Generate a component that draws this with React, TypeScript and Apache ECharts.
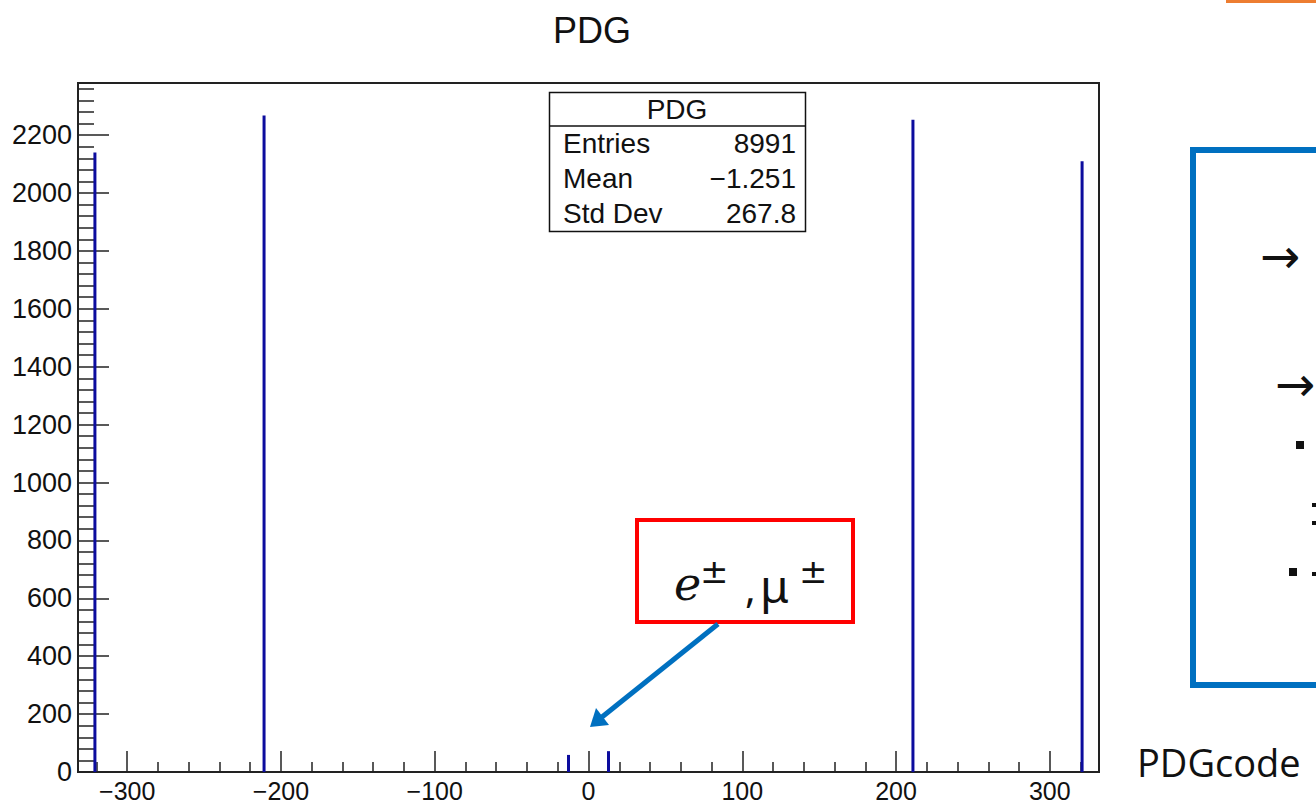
import React, { useEffect, useRef } from "react";
import * as echarts from "echarts";

// ---- data ----
const pdgCodes = [-321, -211, -13, 13, 211, 321];
const counts = [2140, 2268, 59, 72, 2253, 2110];
const xMajorTicks = [-300, -200, -100, 0, 100, 200, 300];
const xMinorTicks = [-320, -280, -260, -240, -220, -180, -160, -140, -120, -80, -60, -40, -20, 20, 40, 60, 80, 120, 140, 160, 180, 220, 240, 260, 280, 320];
const yMajorTicks = [0, 200, 400, 600, 800, 1000, 1200, 1400, 1600, 1800, 2000, 2200];
const yMinorTicks: number[] = [40, 80, 120, 160, 240, 280, 320, 360, 440, 480, 520, 560, 640, 680, 720, 760, 840, 880, 920, 960, 1040, 1080, 1120, 1160, 1240, 1280, 1320, 1360, 1440, 1480, 1520, 1560, 1640, 1680, 1720, 1760, 1840, 1880, 1920, 1960, 2040, 2080, 2120, 2160, 2240, 2280, 2320, 2360];
const statLabels = ["Entries", "Mean", "Std Dev"];
const statValues = ["8991", "\u22121.251", "267.8"];

const X_MIN = -332;
const X_MAX = 332;
const Y_MAX = 2380;

const ROOT_FONT = "'Liberation Sans', Arial, Helvetica, sans-serif";

export default function App() {
  const ref = useRef<HTMLDivElement>(null);
  useEffect(() => {
    if (!ref.current) return;
    const chart = echarts.init(ref.current, undefined, { renderer: "svg" });
    const fmt = (v: number) => (v < 0 ? "\u2212" + Math.abs(v) : String(v));
    const statsTexts: any[] = [];
    statLabels.forEach((l, i) => {
      statsTexts.push({
        type: "text",
        x: 563,
        y: 143 + i * 35,
        style: { text: l, font: `28px ${ROOT_FONT}`, fill: "#111", align: "left", verticalAlign: "middle" },
      });
      statsTexts.push({
        type: "text",
        x: 796,
        y: 143 + i * 35,
        style: { text: statValues[i], font: `28px ${ROOT_FONT}`, fill: "#111", align: "right", verticalAlign: "middle" },
      });
    });
    const tickStyle = { color: "#222", width: 1.5 };
    chart.setOption({
      animation: false,
      backgroundColor: "#fff",
      title: {
        text: "PDG",
        left: 548,
        top: 7,
        textStyle: { fontFamily: ROOT_FONT, fontSize: 36, fontWeight: "normal", color: "#111" },
      },
      grid: {
        left: 78,
        right: 217,
        top: 83,
        bottom: 34,
        show: true,
        borderColor: "#222",
        borderWidth: 2,
        backgroundColor: "transparent",
      },
      xAxis: [
        {
          type: "value",
          min: X_MIN,
          max: X_MAX,
          position: "bottom",
          axisLine: { show: true, onZero: false, lineStyle: { color: "#222", width: 2 } },
          axisTick: { show: true, inside: true, length: 21, customValues: xMajorTicks, lineStyle: tickStyle },
          axisLabel: { show: true, customValues: xMajorTicks, formatter: fmt, fontFamily: ROOT_FONT, fontSize: 25, color: "#111", margin: 6 },
          splitLine: { show: false },
        },
        {
          type: "value",
          min: X_MIN,
          max: X_MAX,
          position: "bottom",
          axisLine: { show: false, onZero: false },
          axisTick: { show: true, inside: true, length: 10, customValues: xMinorTicks, lineStyle: tickStyle },
          axisLabel: { show: false },
          splitLine: { show: false },
        },
      ],
      yAxis: [
        {
          type: "value",
          min: 0,
          max: Y_MAX,
          position: "left",
          axisLine: { show: true, onZero: false, lineStyle: { color: "#222", width: 2 } },
          axisTick: { show: true, inside: true, length: 31, customValues: yMajorTicks, lineStyle: tickStyle },
          axisLabel: { show: true, customValues: yMajorTicks, formatter: (v: number) => String(v), fontFamily: ROOT_FONT, fontSize: 27, color: "#111", margin: 6 },
          splitLine: { show: false },
        },
        {
          type: "value",
          min: 0,
          max: Y_MAX,
          position: "left",
          axisLine: { show: false, onZero: false },
          axisTick: { show: true, inside: true, length: 16, customValues: yMinorTicks, lineStyle: tickStyle },
          axisLabel: { show: false },
          splitLine: { show: false },
        },
      ],
      series: [
        {
          type: "bar",
          xAxisIndex: 0,
          yAxisIndex: 0,
          barWidth: 3,
          itemStyle: { color: "#0c0c9e" },
          data: pdgCodes.map((c, i) => [c, counts[i]]),
        },
      ],
      graphic: [
        // stats box
        { type: "rect", shape: { x: 549.5, y: 92.5, width: 256, height: 139 }, style: { fill: "#fff", stroke: "#111", lineWidth: 1.5 } },
        { type: "line", shape: { x1: 549.5, y1: 126, x2: 805.5, y2: 126 }, style: { stroke: "#111", lineWidth: 1.5 } },
        { type: "text", x: 677, y: 109, style: { text: "PDG", font: `28px ${ROOT_FONT}`, fill: "#111", align: "center", verticalAlign: "middle" } },
        ...statsTexts,
        // annotation box
        { type: "rect", shape: { x: 637, y: 520, width: 216, height: 102 }, style: { fill: "#fff", stroke: "#ff0000", lineWidth: 4 } },
        { type: "text", x: 674, y: 584, style: { text: "e", fontStyle: "italic", fontSize: 46, fontFamily: "DejaVu Serif", fill: "#111", align: "left", verticalAlign: "middle" } },
        { type: "text", x: 700, y: 571, style: { text: "\u00b1", fontSize: 34, fontFamily: "DejaVu Sans", fill: "#111", align: "left", verticalAlign: "middle" } },
        { type: "text", x: 745, y: 587, style: { text: ",", fontSize: 40, fontFamily: "Noto Sans", fill: "#111", align: "left", verticalAlign: "middle" } },
        { type: "text", x: 760, y: 585, style: { text: "\u03bc", fontSize: 46, fontFamily: "Noto Sans", fill: "#111", align: "left", verticalAlign: "middle" } },
        { type: "text", x: 799, y: 571, style: { text: "\u00b1", fontSize: 34, fontFamily: "DejaVu Sans", fill: "#111", align: "left", verticalAlign: "middle" } },
        // arrow
        { type: "line", shape: { x1: 718, y1: 624, x2: 602, y2: 717 }, style: { stroke: "#0070c0", lineWidth: 5 } },
        { type: "polygon", shape: { points: [[590, 727], [609, 725], [596, 708]] }, style: { fill: "#0070c0" } },
        // right side slide content
        { type: "rect", shape: { x: 1193, y: 150, width: 200, height: 535 }, style: { fill: "none", stroke: "#0070c0", lineWidth: 6 } },
        { type: "text", x: 1260, y: 256, style: { text: "\u2192", fontSize: 48, fontFamily: "DejaVu Sans", fill: "#111", align: "left", verticalAlign: "middle" } },
        { type: "text", x: 1275, y: 384, style: { text: "\u2192", fontSize: 48, fontFamily: "DejaVu Sans", fill: "#111", align: "left", verticalAlign: "middle" } },
        { type: "rect", shape: { x: 1296, y: 441, width: 8, height: 8 }, style: { fill: "#111" } },
        { type: "rect", shape: { x: 1312, y: 503, width: 4, height: 4 }, style: { fill: "#111" } },
        { type: "rect", shape: { x: 1312, y: 521, width: 4, height: 4 }, style: { fill: "#111" } },
        { type: "rect", shape: { x: 1289, y: 568, width: 8, height: 8 }, style: { fill: "#111" } },
        { type: "rect", shape: { x: 1312, y: 572, width: 4, height: 4 }, style: { fill: "#111" } },
        { type: "text", x: 1137, y: 762, style: { text: "PDGcode", fontSize: 38, fontFamily: "Open Sans", fill: "#111", align: "left", verticalAlign: "middle" } },
        { type: "rect", shape: { x: 1226, y: 0, width: 90, height: 3 }, style: { fill: "#ed7d31" } },
      ],
    });
    return () => chart.dispose();
  }, []);
  return <div ref={ref} style={{ position: "absolute", left: 0, top: 0, width: 1316, height: 806 }} />;
}
